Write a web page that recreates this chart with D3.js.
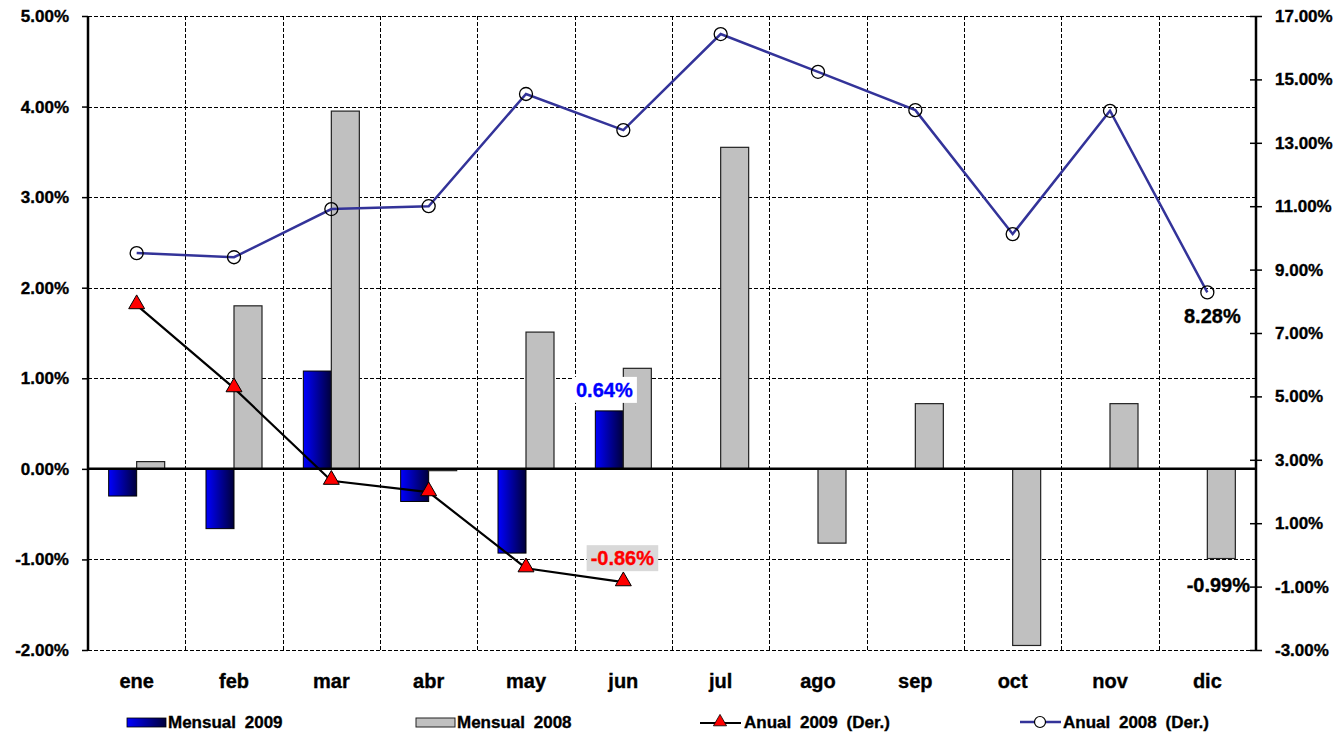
<!DOCTYPE html>
<html><head><meta charset="utf-8">
<script src="https://cdn.jsdelivr.net/npm/d3@7"></script>
<style>body{margin:0;background:#fff}svg{display:block;font-family:"Liberation Sans",Arial,sans-serif;font-weight:bold}
text{stroke:currentColor;stroke-width:0.35px}</style>
</head><body>
<svg id="c" width="1338" height="735"></svg>
<script>
const months = ["ene","feb","mar","abr","may","jun","jul","ago","sep","oct","nov","dic"];
const mensual2009 = [-0.30,-0.66,1.08,-0.36,-0.93,0.64,null,null,null,null,null,null];
const mensual2008 = [0.08,1.80,3.95,-0.02,1.51,1.11,3.55,-0.82,0.72,-1.95,0.72,-0.99];
const anual2009 = [7.88,5.26,2.34,1.98,-0.42,-0.86,null,null,null,null,null,null];
const anual2008 = [9.52,9.39,10.91,11.00,14.54,13.40,16.43,15.24,14.03,10.12,14.01,8.28];
const leftTicks = [-2,-1,0,1,2,3,4,5];
const rightTicks = [-3,-1,1,3,5,7,9,11,13,15,17];
const legendLabels = ["Mensual 2009","Mensual 2008","Anual 2009 (Der.)","Anual 2008 (Der.)"];

const pct = v => d3.format(".2f")(v).replace("\u2212","-") + "%";
const svg = d3.select("#c");
const L = 88, R = 1256, T = 16, B = 650;
const x = d3.scaleBand().domain(months).range([L, R]).padding(0);
const bw = x.bandwidth();
const x1 = d3.scaleBand().domain(["a","b"]).range([0, bw]).paddingInner(0).paddingOuter(0.738);
const yL = d3.scaleLinear().domain([-2, 5]).range([B, T]);
const yR = d3.scaleLinear().domain([-3, 17]).range([B, T]);

const defs = svg.append("defs");
const g = defs.append("linearGradient").attr("id","blueG").attr("x1","0").attr("x2","1").attr("y1","0").attr("y2","0");
g.append("stop").attr("offset","0").attr("stop-color","#0000ff");
g.append("stop").attr("offset","1").attr("stop-color","#00003a");

// gridlines
const grid = svg.append("g").attr("stroke","#000").attr("stroke-width",1).attr("stroke-dasharray","4,2");
grid.selectAll("line.h").data(leftTicks.filter(d=>d!==0)).join("line")
  .attr("x1",L).attr("x2",R).attr("y1",d=>Math.round(yL(d))+0.5).attr("y2",d=>Math.round(yL(d))+0.5);
grid.selectAll("line.v").data(months.slice(1)).join("line")
  .attr("x1",d=>Math.round(x(d))+0.5).attr("x2",d=>Math.round(x(d))+0.5).attr("y1",T).attr("y2",B);

// bars
const bars = svg.append("g");
bars.selectAll("rect.m9").data(months.map((m,i)=>({m,v:mensual2009[i]})).filter(d=>d.v!==null)).join("rect")
  .attr("x",d=>x(d.m)+x1("a")).attr("width",x1.bandwidth())
  .attr("y",d=>yL(Math.max(0,d.v))).attr("height",d=>Math.abs(yL(d.v)-yL(0)))
  .attr("fill","url(#blueG)").attr("stroke","#000").attr("stroke-width",1);
bars.selectAll("rect.m8").data(months.map((m,i)=>({m,v:mensual2008[i]}))).join("rect")
  .attr("x",d=>x(d.m)+x1("b")).attr("width",x1.bandwidth())
  .attr("y",d=>yL(Math.max(0,d.v))).attr("height",d=>Math.abs(yL(d.v)-yL(0)))
  .attr("fill","#c0c0c0").attr("stroke","#222").attr("stroke-width",1.2);

// zero line
svg.append("line").attr("x1",L).attr("x2",R).attr("y1",yL(0)).attr("y2",yL(0)).attr("stroke","#000").attr("stroke-width",2.5);

// axes
const axL = svg.append("g").attr("transform",`translate(${L},0)`)
  .call(d3.axisLeft(yL).tickValues(leftTicks).tickSize(6).tickPadding(13).tickFormat(pct));
axL.select(".domain").attr("stroke-width",2.5).attr("d",`M0,${T}V${B}`);
axL.selectAll(".tick line").attr("stroke-width",1.5);
axL.selectAll("text").attr("font-size",17).attr("font-weight","bold").attr("fill","#000").attr("font-family","Liberation Sans, Arial, sans-serif");

const axR = svg.append("g").attr("transform",`translate(${R},0)`)
  .call(d3.axisRight(yR).tickValues(rightTicks).tickSize(6).tickPadding(13).tickFormat(pct));
axR.select(".domain").attr("stroke-width",2.5).attr("d",`M0,${T}V${B}`);
axR.selectAll(".tick line").attr("x1",-6).attr("x2",6).attr("stroke-width",1.5);
axR.selectAll("text").attr("font-size",17).attr("font-weight","bold").attr("fill","#000").attr("font-family","Liberation Sans, Arial, sans-serif");

// category labels
svg.append("g").attr("fill","#000").selectAll("text").data(months).join("text")
  .attr("x",d=>x(d)+bw/2).attr("y",688).attr("text-anchor","middle").attr("font-size",20).text(d=>d);

// lines
const cx = m => x(m)+bw/2;
const a8 = months.map((m,i)=>({m,v:anual2008[i]}));
const a9 = months.map((m,i)=>({m,v:anual2009[i]})).filter(d=>d.v!==null);
svg.append("path").datum(a8).attr("d",d3.line().x(d=>cx(d.m)).y(d=>yR(d.v)))
  .attr("fill","none").attr("stroke","#333399").attr("stroke-width",2.5);
svg.append("g").selectAll("circle").data(a8).join("circle")
  .attr("cx",d=>cx(d.m)).attr("cy",d=>yR(d.v)).attr("r",6.5)
  .attr("fill","none").attr("stroke","#000").attr("stroke-width",1.3);
svg.append("path").datum(a9).attr("d",d3.line().x(d=>cx(d.m)).y(d=>yR(d.v)))
  .attr("fill","none").attr("stroke","#000").attr("stroke-width",2.2);
const tri = d3.symbol().type(d3.symbolTriangle).size(110);
svg.append("g").selectAll("path").data(a9).join("path")
  .attr("d",tri).attr("transform",d=>`translate(${cx(d.m)},${yR(d.v)-1})`)
  .attr("fill","#ff0000").attr("stroke","#000").attr("stroke-width",1);

// data labels
function label(txt, px, py, color, bg){
  const t = svg.append("text").attr("x",px).attr("y",py).attr("text-anchor","middle").attr("dominant-baseline","central")
    .attr("font-size",20).attr("fill",color).style("color",color).text(txt);
  if(bg){
    const bb = t.node().getBBox();
    svg.insert("rect", () => t.node()).attr("x",bb.x-4).attr("y",bb.y-2).attr("width",bb.width+8).attr("height",bb.height+4).attr("fill",bg);
  }
}
label(pct(mensual2009[5]), cx("jun")-19, yL(mensual2009[5])-21, "#0000ff", "#ffffff");
label(pct(anual2009[5]), cx("jun")-1, yR(anual2009[5])-24, "#ff0000", "#d9d9d9");
label(pct(anual2008[11]), cx("dic")+5, yR(anual2008[11])+24, "#000", null);
label(pct(mensual2008[11]), cx("dic")+11, yL(mensual2008[11])+26, "#000", null);

// legend
const lg = svg.append("g").attr("font-size",17).attr("word-spacing","4px").attr("fill","#000");
const ly = 722;
lg.append("rect").attr("x",127).attr("y",ly-4).attr("width",39).attr("height",9).attr("fill","url(#blueG)").attr("stroke","#000").attr("stroke-width",0.8);
lg.append("text").attr("x",168).attr("y",ly).attr("dominant-baseline","central").text(legendLabels[0]);
lg.append("rect").attr("x",416).attr("y",ly-4).attr("width",39).attr("height",9).attr("fill","#c0c0c0").attr("stroke","#222").attr("stroke-width",1);
lg.append("text").attr("x",457).attr("y",ly).attr("dominant-baseline","central").text(legendLabels[1]);
lg.append("line").attr("x1",700).attr("x2",741).attr("y1",ly+1).attr("y2",ly+1).attr("stroke","#000").attr("stroke-width",2.2);
lg.append("path").attr("d",d3.symbol().type(d3.symbolTriangle).size(75)).attr("transform",`translate(720,${ly})`).attr("fill","#ff0000").attr("stroke","#000").attr("stroke-width",0.8);
lg.append("text").attr("x",744).attr("y",ly).attr("dominant-baseline","central").text(legendLabels[2]);
lg.append("line").attr("x1",1020).attr("x2",1061).attr("y1",ly).attr("y2",ly).attr("stroke","#333399").attr("stroke-width",2.5);
lg.append("circle").attr("cx",1040).attr("cy",ly).attr("r",5.5).attr("fill","#fff").attr("stroke","#000").attr("stroke-width",1.2);
lg.append("text").attr("x",1063).attr("y",ly).attr("dominant-baseline","central").text(legendLabels[3]);
</script>
</body></html>
